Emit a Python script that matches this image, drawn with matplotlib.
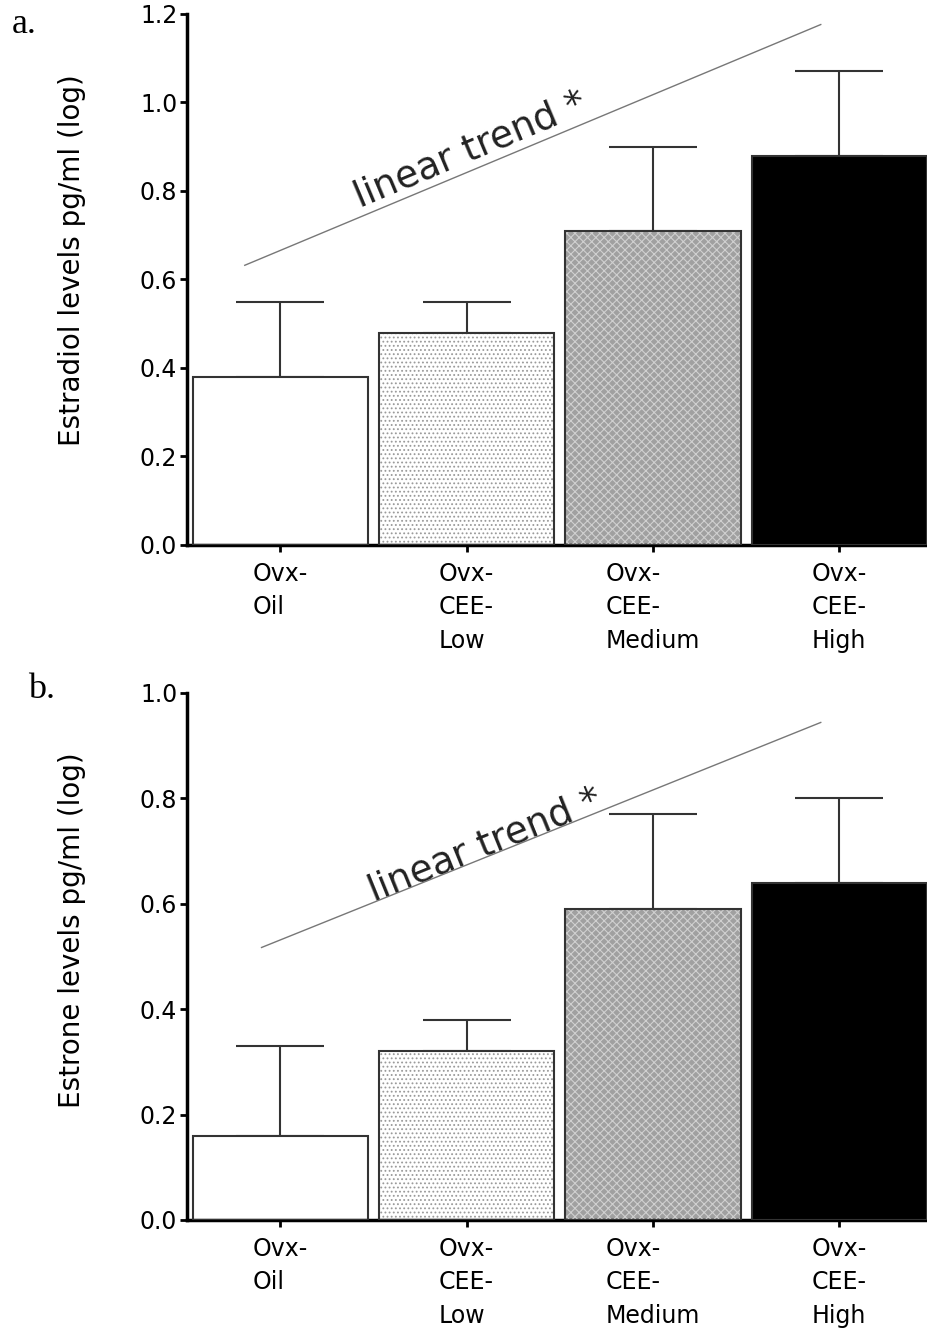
import numpy as np
import matplotlib
matplotlib.use('Agg')
import matplotlib.pyplot as plt

groups = ['Ovx-\nOil', 'Ovx-\nCEE-\nLow', 'Ovx-\nCEE-\nMedium', 'Ovx-\nCEE-\nHigh']

estradiol_mean = [0.38, 0.48, 0.71, 0.88]
estradiol_err = [0.17, 0.07, 0.19, 0.19]

estrone_mean = [0.16, 0.32, 0.59, 0.64]
estrone_err = [0.17, 0.06, 0.18, 0.16]

# hand-drawn trend lines (x in bar units, y in data units)
trend_x = [-0.19, 2.90]
trend_estradiol = [0.632, 1.176]
trend_x_b = [-0.10, 2.90]
trend_estrone = [0.517, 0.944]

face = ['white', 'white', '#a0a0a0', 'black']
hatch = [None, '....', 'xxxx', None]
hatch_col = ['none', '#9a9a9a', '#d0d0d0', 'none']

plt.rcParams['hatch.linewidth'] = 0.8

fig = plt.figure(figsize=(9.27, 13.39), dpi=100)
ax1 = fig.add_axes([0.2017, 0.5930, 0.7983, 0.3966])
ax2 = fig.add_axes([0.2017, 0.0889, 0.7983, 0.3936])

x = np.arange(len(groups))
w = 0.94


def draw(ax, means, errs, ymax, ylabel, lab_y, tx, ty, text_xy, angle):
    ax.errorbar(x, means, yerr=[np.zeros(len(x)), errs], fmt='none', ecolor='#333333',
                elinewidth=1.5, capsize=32, capthick=1.5, zorder=1)
    for i in range(len(x)):
        ax.bar(x[i], means[i], w, color=face[i], linewidth=0, zorder=2)
        if hatch[i]:
            ax.bar(x[i], means[i], w, color='none', edgecolor=hatch_col[i],
                   hatch=hatch[i], linewidth=0, zorder=3)
        ax.bar(x[i], means[i], w, fill=False, edgecolor='#333333', linewidth=1.5, zorder=4)
    ax.plot(tx, ty, color='#777777', lw=1.0, zorder=5)
    ax.text(text_xy[0], text_xy[1], 'linear trend *', fontsize=27, rotation=angle,
            ha='center', va='center', color='#222222')
    ax.set_xlim(-0.5, 3.47)
    ax.set_ylim(0, ymax)
    ax.set_yticks(np.arange(0, ymax + 0.01, 0.2))
    ax.set_yticklabels(['%.1f' % v for v in np.arange(0, ymax + 0.01, 0.2)])
    ax.set_xticks(x)
    ax.set_xticklabels(groups, multialignment='left', linespacing=1.5)
    ax.spines['top'].set_visible(False)
    ax.spines['right'].set_visible(False)
    ax.spines['left'].set_linewidth(2.5)
    ax.spines['bottom'].set_linewidth(2.5)
    ax.tick_params(axis='y', labelsize=17, length=5, width=2, pad=2)
    ax.tick_params(axis='x', labelsize=17, length=5, width=2, pad=7)
    ax.set_ylabel(ylabel, fontsize=20)
    ax.yaxis.set_label_coords(-0.136, lab_y)


draw(ax1, estradiol_mean, estradiol_err, 1.2, 'Estradiol levels pg/ml (log)', 0.537,
     trend_x, trend_estradiol, (1.02, 0.892), 22.8)
draw(ax2, estrone_mean, estrone_err, 1.0, 'Estrone levels pg/ml (log)', 0.55,
     trend_x_b, trend_estrone, (1.10, 0.71), 22.1)

fig.text(12 / 927, 1 - 33 / 1339, 'a.', family='Liberation Serif', fontsize=26, va='baseline')
fig.text(28 / 927, 1 - 698 / 1339, 'b.', family='Liberation Serif', fontsize=26, va='baseline')

fig.savefig('out.png', dpi=100)
